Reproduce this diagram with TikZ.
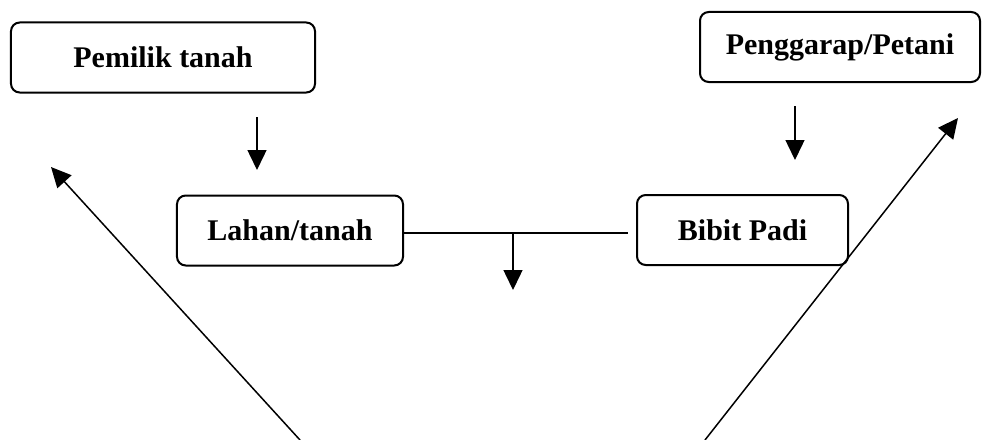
\documentclass[tikz,border=0pt]{standalone}
\usepackage{fontspec}
\setmainfont{Liberation Serif}
\usetikzlibrary{arrows.meta,positioning}

\begin{document}
\begin{tikzpicture}
		[x=0.4pt, y=-0.4pt,
		block/.style ={rectangle, draw=black, thick, rounded corners=3.5pt, font=\bfseries\fontsize{12pt}{14pt}\selectfont, align=center, minimum height=28pt},
		line/.style ={draw, semithick, -{Triangle[length=8pt,width=7.6pt]}},
		link/.style ={draw, semithick},
		]
		\useasboundingbox (0,0) rectangle (982,440);

		\draw (163,57.5) node[block, minimum width=121.6pt] (P1) {Pemilik tanah};
		\draw (840,47) node[block, minimum width=112pt] (P2) {Penggarap/Petani};
		\draw (290,230.5) node[block, minimum width=90.4pt] (L1) {Lahan/tanah};
		\draw (742.5,230) node[block, minimum width=84.4pt] (B1) {Bibit Padi};

		\coordinate (a1) at (257,117);
		\coordinate (a2) at (257,170);
		\coordinate (b1) at (795,106);
		\coordinate (b2) at (795,160);
		\coordinate (h1) at (628,233);
		\coordinate (m1) at (513,233);
		\coordinate (m2) at (513,290);
		\coordinate (d1) at (300,440);
		\coordinate (d2) at (51,167);
		\coordinate (e1) at (705,440);
		\coordinate (e2) at (958,118);

		\path[line] (a1) -- (a2);
		\path[line] (b1) -- (b2);
		\path[link] (L1.east |- h1) -- (h1);
		\path[line] (m1) -- (m2);
		\path[line] (d1) -- (d2);
		\path[line] (e1) -- (e2);

	\end{tikzpicture}
\end{document}
